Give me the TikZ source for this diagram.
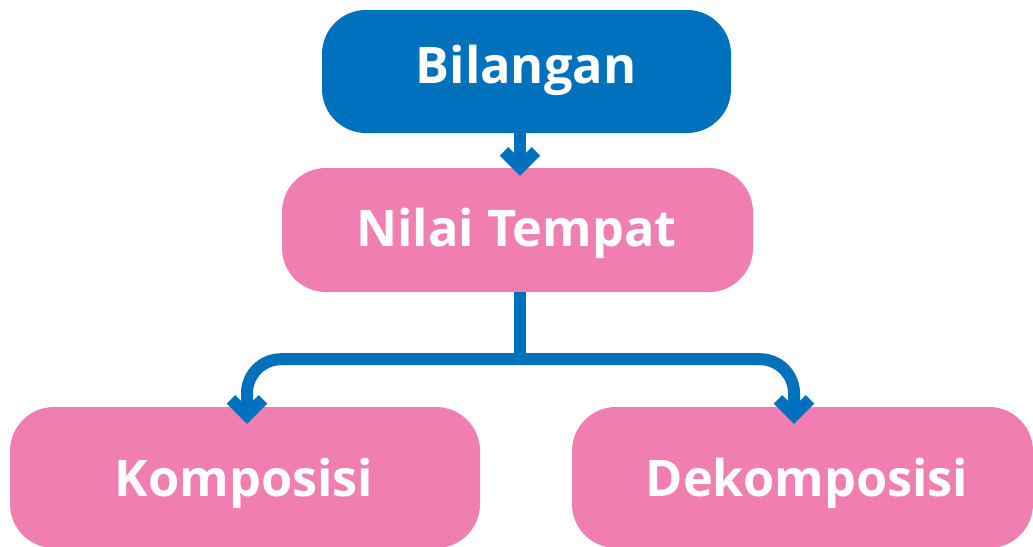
\documentclass[tikz,border=0pt]{standalone}
\usepackage{fontspec}
\setmainfont{Open Sans}
\usetikzlibrary{arrows.meta,calc}
\definecolor{cblue}{RGB}{0,113,188}
\definecolor{cpink}{RGB}{240,126,176}
\begin{document}
\begin{tikzpicture}[x=1pt,y=-1pt,
  box/.style={draw=none,rounded corners=44pt,inner sep=0pt},
  bluebox/.style={box,fill=cblue},
  pinkbox/.style={box,fill=cpink},
  lbl/.style={text=white,anchor=base,inner sep=0pt,font=\bfseries\fontsize{50.5}{60}\selectfont},
  conn/.style={draw=cblue,line width=12pt,line cap=butt,line join=miter,-{Straight Barb[length=16pt,width=32pt]}},
  trunk/.style={draw=cblue,line width=12pt,line cap=butt}
]
\useasboundingbox (0,0) rectangle (1033,546);
\node[bluebox,minimum width=409pt,minimum height=123pt] (bil) at (526.5,71.5) {};
\node[pinkbox,minimum width=471pt,minimum height=124pt] (nt) at (517.5,230) {};
\node[pinkbox,minimum width=470pt,minimum height=141pt] (kom) at (245,477.5) {};
\node[pinkbox,minimum width=461pt,minimum height=141pt] (dek) at (802.5,477.5) {};
\node[lbl] (tbil) at (526,83) {Bilangan};
\node[lbl] (tnt) at (516.5,246) {Nilai Tempat};
\node[lbl] (tkom) at (244,496) {Komposisi};
\node[lbl] (tdek) at (807,496) {Dekomposisi};
\coordinate (j) at ($(nt.south)+(2.5,67)$);
\draw[conn] ($(bil.south)+(-6.5,0)$) -- ($(nt.north)+(2.5,8)$);
\draw[trunk] ($(nt.south)+(2.5,0)$) -- ($(j)+(0,6)$);
\draw[conn,rounded corners=34pt] (j) -| ($(kom.north)+(2,17)$);
\draw[conn,rounded corners=34pt] (j) -| ($(dek.north)+(-8.5,17)$);
\end{tikzpicture}
\end{document}
